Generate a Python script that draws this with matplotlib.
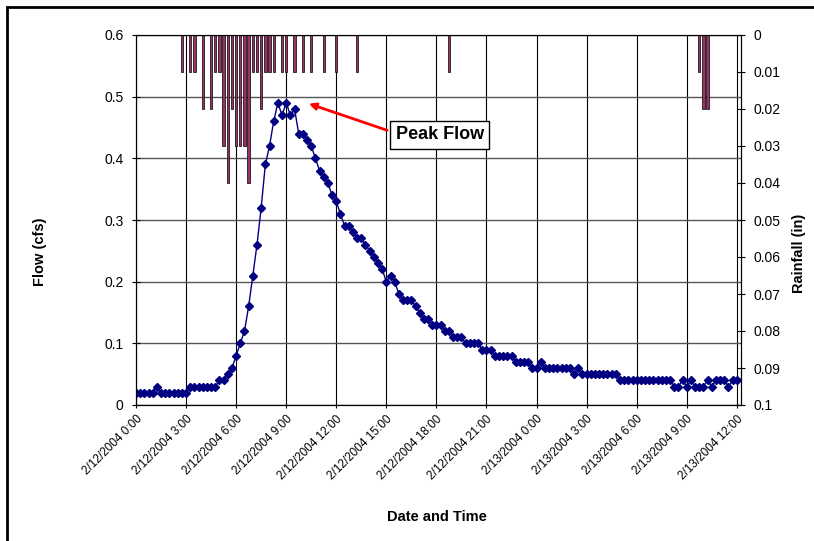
import matplotlib
matplotlib.use("Agg")
import matplotlib.pyplot as plt
import matplotlib.dates as mdates
import pandas as pd

plt.rcParams['font.family'] = ['Liberation Sans', 'DejaVu Sans']

# 15 minute flow readings, 2/12/2004 0:00 -> 2/13/2004 12:00
flow = [
    0.02, 0.02, 0.02, 0.02, 0.02, 0.03, 0.02, 0.02, 0.02, 0.02,
    0.02, 0.02, 0.02, 0.03, 0.03, 0.03, 0.03, 0.03, 0.03, 0.03,
    0.04, 0.04, 0.05, 0.06, 0.08, 0.10, 0.12, 0.16, 0.21, 0.26,
    0.32, 0.39, 0.42, 0.46, 0.49, 0.47, 0.49, 0.47, 0.48, 0.44,
    0.44, 0.43, 0.42, 0.40, 0.38, 0.37, 0.36, 0.34, 0.33, 0.31,
    0.29, 0.29, 0.28, 0.27, 0.27, 0.26, 0.25, 0.24, 0.23, 0.22,
    0.20, 0.21, 0.20, 0.18, 0.17, 0.17, 0.17, 0.16, 0.15, 0.14,
    0.14, 0.13, 0.13, 0.13, 0.12, 0.12, 0.11, 0.11, 0.11, 0.10,
    0.10, 0.10, 0.10, 0.09, 0.09, 0.09, 0.08, 0.08, 0.08, 0.08,
    0.08, 0.07, 0.07, 0.07, 0.07, 0.06, 0.06, 0.07, 0.06, 0.06,
    0.06, 0.06, 0.06, 0.06, 0.06, 0.05, 0.06, 0.05, 0.05, 0.05,
    0.05, 0.05, 0.05, 0.05, 0.05, 0.05, 0.04, 0.04, 0.04, 0.04,
    0.04, 0.04, 0.04, 0.04, 0.04, 0.04, 0.04, 0.04, 0.04, 0.03,
    0.03, 0.04, 0.03, 0.04, 0.03, 0.03, 0.03, 0.04, 0.03, 0.04,
    0.04, 0.04, 0.03, 0.04, 0.04,
]

rain_times = [
    "2004-02-12 02:45", "2004-02-12 03:15", "2004-02-12 03:30", "2004-02-12 04:00",
    "2004-02-12 04:30", "2004-02-12 04:45", "2004-02-12 05:00", "2004-02-12 05:15",
    "2004-02-12 05:30", "2004-02-12 05:45", "2004-02-12 06:00", "2004-02-12 06:15",
    "2004-02-12 06:30", "2004-02-12 06:45", "2004-02-12 07:00", "2004-02-12 07:15",
    "2004-02-12 07:30", "2004-02-12 07:45", "2004-02-12 08:00", "2004-02-12 08:15",
    "2004-02-12 08:45", "2004-02-12 09:00", "2004-02-12 09:30", "2004-02-12 10:00",
    "2004-02-12 10:30", "2004-02-12 11:15", "2004-02-12 12:00", "2004-02-12 13:15",
    "2004-02-12 18:45", "2004-02-13 09:45", "2004-02-13 10:00", "2004-02-13 10:15",
]
rain = [
    0.01, 0.01, 0.01, 0.02, 0.02, 0.01, 0.01, 0.03,
    0.04, 0.02, 0.03, 0.03, 0.03, 0.04, 0.01, 0.01,
    0.02, 0.01, 0.01, 0.01, 0.01, 0.01, 0.01, 0.01,
    0.01, 0.01, 0.01, 0.01, 0.01, 0.01, 0.02, 0.02,
]

t = pd.date_range("2004-02-12 00:00", periods=len(flow), freq="15min")
rt = pd.to_datetime(rain_times)
start = t[0]
end = start + pd.Timedelta(hours=36.25)

fig = plt.figure(figsize=(8.14, 5.41), dpi=100)
ax = fig.add_axes([136 / 814, 136 / 541, 605 / 814, 370 / 541])

ax.plot(t, flow, color="#000080", lw=1, marker="D", markersize=4, zorder=3)
ax.set_xlim(start, end)
ax.set_ylim(0, 0.6)
ax.set_yticks([0, 0.1, 0.2, 0.3, 0.4, 0.5, 0.6])
ax.set_yticklabels(["0", "0.1", "0.2", "0.3", "0.4", "0.5", "0.6"])
ax.xaxis.set_major_locator(mdates.HourLocator(byhour=range(0, 24, 3)))


def fmt(x, pos=None):
    d = mdates.num2date(x)
    return f"{d.month}/{d.day}/{d.year} {d.hour}:{d.minute:02d}"


ax.xaxis.set_major_formatter(plt.FuncFormatter(fmt))
ax.grid(axis="y", color="#555555", lw=1)
ax.grid(axis="x", color="black", lw=0.8)
ax.set_axisbelow(True)
ax.tick_params(axis="y", direction="inout", length=6, labelsize=10, pad=6)
ax.tick_params(axis="x", direction="inout", length=5, labelsize=8.5)
for lab in ax.get_xticklabels():
    lab.set_rotation(45)
    lab.set_ha("right")
    lab.set_rotation_mode("anchor")
ax.spines["top"].set_color("#555555")
ax.set_ylabel("Flow (cfs)", fontsize=10.5, fontweight="bold")
ax.yaxis.set_label_coords(-0.147, 0.415)
ax.set_xlabel("Date and Time", fontsize=10.5, fontweight="bold")
ax.xaxis.set_label_coords(0.4975, -0.285)

ax2 = ax.twinx()
ax2.bar(rt, rain, width=8.5 / 1440, color="#993366", edgecolor="black", lw=0.5, align="center")
ax2.set_ylim(0.1, 0)
ax2.set_yticks([i / 100 for i in range(11)])
ax2.set_yticklabels(["0", "0.01", "0.02", "0.03", "0.04", "0.05", "0.06", "0.07", "0.08", "0.09", "0.1"])
ax2.tick_params(axis="y", direction="inout", length=6, labelsize=10, pad=6)
ax2.set_ylabel("Rainfall (in)", fontsize=10.5, fontweight="bold", rotation=90)
ax2.yaxis.set_label_coords(1.085, 0.41)
ax2.set_xlim(start, end)

ax.annotate("Peak Flow", xy=(start + pd.Timedelta(hours=10.2), 0.49),
            xytext=(start + pd.Timedelta(hours=18.2), 0.438),
            fontsize=13, fontweight="bold", ha="center", va="center",
            bbox=dict(boxstyle="square,pad=0.3", fc="white", ec="black", lw=1),
            arrowprops=dict(arrowstyle="-|>", color="red", lw=2, mutation_scale=10,
                            relpos=(0, 0.6)),
            zorder=5)

fig.add_artist(plt.Rectangle((7 / 814, -0.05), 1.0, 1.05 - 7 / 541, transform=fig.transFigure,
                             fill=False, ec="black", lw=2))

fig.savefig("out.png", dpi=100)
